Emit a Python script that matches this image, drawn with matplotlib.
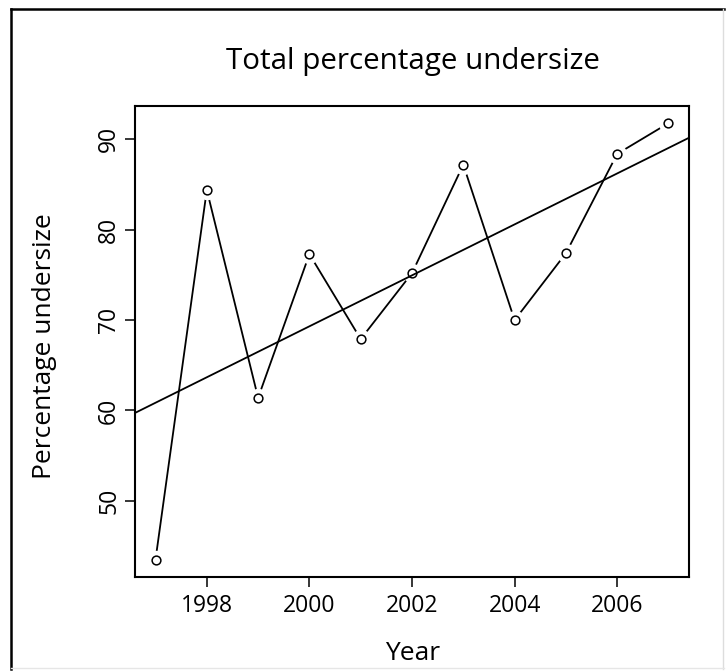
import numpy as np
import matplotlib
matplotlib.use("Agg")
import matplotlib.pyplot as plt

# Yearly totals of undersize percentage
years = [1997, 1998, 1999, 2000, 2001, 2002, 2003, 2004, 2005, 2006, 2007]
pct_undersize = [43.5, 84.4, 61.4, 77.3, 67.9, 75.2, 87.2, 70.0, 77.4, 88.4, 91.8]

x_ticks = [1998, 2000, 2002, 2004, 2006]
y_ticks = [50, 60, 70, 80, 90]

plt.rcParams["font.family"] = ["Open Sans", "DejaVu Sans"]

DPI = 100
W, H = 726, 672
fig = plt.figure(figsize=(W / DPI, H / DPI), dpi=DPI)
fig.patch.set_facecolor("white")

# outer frame around the figure
fig.add_artist(plt.Line2D([0.015, 0.015], [0.005, 0.987], transform=fig.transFigure,
                          color="black", lw=1.8))
fig.add_artist(plt.Line2D([0.015, 0.997], [0.987, 0.987], transform=fig.transFigure,
                          color="black", lw=1.8))
fig.add_artist(plt.Line2D([0.996, 0.996], [0.005, 0.987], transform=fig.transFigure,
                          color="#dddddd", lw=1.0))
fig.add_artist(plt.Line2D([0.015, 0.997], [0.006, 0.006], transform=fig.transFigure,
                          color="#e6e6e6", lw=1.0))

left, right, top, bottom = 135, 689, 105.7, 577
ax = fig.add_axes([left / W, 1 - bottom / H, (right - left) / W, (bottom - top) / H])

x = np.array(years, dtype=float)
y = np.array(pct_undersize, dtype=float)

# R-style 4% padding on both axes
xr = x.max() - x.min()
yr = y.max() - y.min()
ax.set_xlim(x.min() - 0.04 * xr, x.max() + 0.04 * xr)
ax.set_ylim(y.min() - 0.04 * yr, y.max() + 0.04 * yr)

# connecting line, broken around each point by a white halo
ax.plot(x, y, color="black", lw=1.3, zorder=1)
ax.plot(x, y, linestyle="none", marker="o", markersize=14, markerfacecolor="white",
        markeredgecolor="none", zorder=2)

# least-squares trend line across the full plot width
slope, intercept = np.polyfit(x, y, 1)
xl = np.array(ax.get_xlim())
ax.plot(xl, intercept + slope * xl, color="black", lw=1.3, zorder=3)

ax.plot(x, y, linestyle="none", marker="o", markersize=6.3, markerfacecolor="none",
        markeredgecolor="black", markeredgewidth=1.1, zorder=4)

ax.set_xticks(x_ticks)
ax.set_yticks(y_ticks)
ax.set_yticklabels([str(v) for v in y_ticks], rotation=90, va="center")
ax.tick_params(axis="both", direction="out", length=7, width=1.1, labelsize=16.5,
               color="black", labelcolor="black")
ax.tick_params(axis="x", pad=5)
ax.tick_params(axis="y", pad=3)
for s in ax.spines.values():
    s.set_linewidth(1.5)
    s.set_color("black")

fig.text(413 / W, 1 - 653 / H, "Year", fontsize=19, ha="center", va="center")
fig.text(45 / W, 1 - 346 / H, "Percentage undersize", fontsize=19, rotation=90,
         ha="center", va="center")
fig.text(413 / W, 1 - 62 / H, "Total percentage undersize", fontsize=21.3,
         ha="center", va="center")

fig.savefig("out.png", dpi=DPI, facecolor="white")
